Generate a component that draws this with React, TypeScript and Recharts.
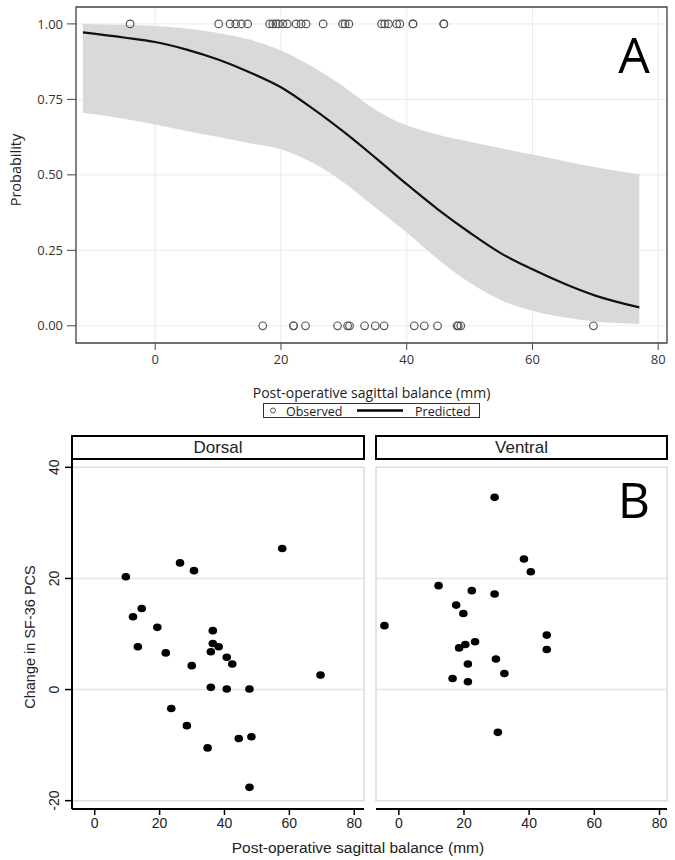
import React from "react"
import {
  ComposedChart,
  ScatterChart,
  Scatter,
  Line,
  Area,
  XAxis,
  YAxis,
  CartesianGrid,
  ReferenceArea,
  ReferenceLine,
  Label,
} from "recharts"

// ---- panel A: fitted probability curve ----
const curveX = [-11.5, -5, 0, 5, 10, 15, 20, 25, 30, 35, 40, 45, 50, 55, 60, 65, 70, 77]
const predicted = [0.972, 0.955, 0.94, 0.915, 0.882, 0.84, 0.79, 0.72, 0.642, 0.557, 0.469, 0.385, 0.309, 0.24, 0.187, 0.14, 0.1, 0.061]
const ciUpper = [1.0, 0.997, 0.993, 0.985, 0.97, 0.948, 0.912, 0.858, 0.792, 0.716, 0.664, 0.633, 0.61, 0.588, 0.567, 0.546, 0.525, 0.502]
const ciLower = [0.706, 0.686, 0.667, 0.645, 0.625, 0.605, 0.585, 0.54, 0.475, 0.392, 0.309, 0.22, 0.143, 0.085, 0.05, 0.028, 0.014, 0.006]

// observed outcomes (1 = yes, 0 = no)
const observedYes = [-4.0, 10.1, 11.9, 12.8, 13.7, 14.7, 18.2, 18.7, 19.2, 19.6, 20.3, 21.0, 22.4, 23.2, 24.0, 26.7, 29.8, 30.2, 30.8, 36.0, 36.5, 37.1, 38.4, 38.9, 41.0, 41.0, 45.9, 45.9]
const observedNo = [17.1, 22.0, 22.0, 23.9, 29.0, 30.6, 30.9, 33.3, 35.0, 36.4, 41.2, 42.8, 44.9, 48.0, 48.2, 48.6, 69.7]

const probTicks = [0, 0.25, 0.5, 0.75, 1]
const balanceTicks = [0, 20, 40, 60, 80]

// ---- panel B: change in SF-36 PCS by approach ----
const dorsalX = [9.6, 11.8, 14.5, 13.3, 19.3, 21.9, 26.3, 30.6, 29.9, 23.6, 28.4, 34.8, 36.4, 36.4, 38.2, 35.8, 40.7, 42.4, 35.8, 40.7, 47.7, 44.4, 48.3, 47.7, 57.8, 69.6]
const dorsalY = [20.3, 13.1, 14.6, 7.7, 11.2, 6.6, 22.8, 21.4, 4.3, -3.4, -6.5, -10.5, 10.6, 8.3, 7.7, 6.8, 5.8, 4.6, 0.4, 0.1, 0.1, -8.8, -8.5, -17.6, 25.4, 2.6]
const ventralX = [29.4, 38.4, 40.5, 12.2, 22.4, 29.4, 17.6, 19.8, -4.4, 45.4, 45.4, 23.4, 20.4, 18.5, 29.8, 21.2, 32.4, 16.5, 21.2, 30.4]
const ventralY = [34.6, 23.5, 21.2, 18.7, 17.8, 17.2, 15.2, 13.7, 11.5, 9.8, 7.2, 8.6, 8.1, 7.5, 5.5, 4.6, 2.9, 2.0, 1.4, -7.7]

const pcsTicks = [-20, 0, 20, 40]
const pcsGrid = [0, 20]

const fontA = "'Open Sans', sans-serif"
const fontB = "'Liberation Sans', Arial, sans-serif"

const domainA: [number, number] = [-12.6, 81.4]
const probDomain: [number, number] = [-0.057, 1.056]
const dorsalDomain: [number, number] = [-7, 83]
const ventralDomain: [number, number] = [-7, 82.3]
const pcsDomain: [number, number] = [-21.5, 41.5]

const curveData = curveX.map((x, i) => ({ x, p: predicted[i], band: [ciLower[i], ciUpper[i]] }))
const observedData = [
  ...observedYes.map((x) => ({ x, y: 1 })),
  ...observedNo.map((x) => ({ x, y: 0 })),
]
const dorsalData = dorsalX.map((x, i) => ({ x, y: dorsalY[i] }))
const ventralData = ventralX.map((x, i) => ({ x, y: ventralY[i] }))

const HollowDot = (props: any) => (
  <circle cx={props.cx} cy={props.cy} r={3.8} fill="none" stroke="#555" strokeWidth={1.2} />
)

const SolidDot = (props: any) => <ellipse cx={props.cx} cy={props.cy} rx={4.3} ry={3.8} fill="#000" />

const PcsTick = ({ x, y, payload }: any) => (
  <g transform={`translate(${x - 4},${y}) rotate(-90)`}>
    <text textAnchor="middle" fontSize={14} fill="#222" fontFamily={fontB}>
      {payload.value}
    </text>
  </g>
)

function PanelA() {
  return (
    <ComposedChart width={675} height={420} data={curveData} margin={{ top: 7, right: 8, bottom: 0, left: 0 }}>
      <CartesianGrid stroke="#ebebeb" />
      <XAxis
        type="number"
        dataKey="x"
        domain={domainA}
        ticks={balanceTicks}
        allowDataOverflow
        height={77}
        axisLine={false}
        tickLine={{ stroke: "#444" }}
        tickSize={7}
        tickMargin={5}
        tick={{ fontSize: 13, fill: "#333", fontFamily: fontA }}
      >
        <Label
          content={(p: any) => (
            <text
              x={p.viewBox.x + p.viewBox.width / 2}
              y={p.viewBox.y + 49}
              textAnchor="middle"
              dominantBaseline="central"
              fontSize={14}
              fill="#222"
              fontFamily={fontA}
            >
              Post-operative sagittal balance (mm)
            </text>
          )}
        />
      </XAxis>
      <YAxis
        type="number"
        domain={probDomain}
        ticks={probTicks}
        allowDataOverflow
        width={76}
        axisLine={false}
        tickLine={{ stroke: "#444" }}
        tickSize={9}
        tickMargin={4}
        tickFormatter={(v: number) => v.toFixed(2)}
        tick={{ fontSize: 13, fill: "#333", fontFamily: fontA }}
      >
        <Label
          content={(p: any) => (
            <text
              transform={`translate(15,${p.viewBox.y + p.viewBox.height / 2 - 5}) rotate(-90)`}
              textAnchor="middle"
              dominantBaseline="central"
              fontSize={14.5}
              fill="#222"
              fontFamily={fontA}
            >
              Probability
            </text>
          )}
        />
      </YAxis>
      <Area type="monotone" dataKey="band" fill="#d9d9d9" fillOpacity={1} stroke="none" isAnimationActive={false} />
      <Line type="monotone" dataKey="p" stroke="#111" strokeWidth={2.2} dot={false} isAnimationActive={false} />
      <Scatter data={observedData} dataKey="y" shape={HollowDot} isAnimationActive={false} />
      <ReferenceArea
        x1={domainA[0]}
        x2={domainA[1]}
        y1={probDomain[0]}
        y2={probDomain[1]}
        fill="none"
        stroke="#444"
        strokeWidth={1.3}
      />
    </ComposedChart>
  )
}

function DorsalPanel() {
  return (
    <ScatterChart width={370} height={440} margin={{ top: 39, right: 6, bottom: 0, left: 0 }}>
      <XAxis
        type="number"
        dataKey="x"
        domain={dorsalDomain}
        ticks={balanceTicks}
        allowDataOverflow
        height={51}
        axisLine={{ stroke: "#000", strokeWidth: 2 }}
        tickLine={{ stroke: "#000", strokeWidth: 1.5 }}
        tickSize={6}
        tickMargin={3}
        tick={{ fontSize: 14, fill: "#222", fontFamily: fontB }}
      />
      <YAxis
        type="number"
        dataKey="y"
        domain={pcsDomain}
        ticks={pcsTicks}
        allowDataOverflow
        width={72}
        axisLine={{ stroke: "#000", strokeWidth: 2 }}
        tickLine={{ stroke: "#000", strokeWidth: 1.5 }}
        tickSize={7}
        tickMargin={2}
        tick={<PcsTick />}
      >
        <Label
          content={(p: any) => (
            <text
              transform={`translate(30,${p.viewBox.y + p.viewBox.height / 2 + 3}) rotate(-90)`}
              textAnchor="middle"
              dominantBaseline="central"
              fontSize={14.5}
              fill="#222"
              fontFamily={fontB}
            >
              Change in SF-36 PCS
            </text>
          )}
        />
      </YAxis>
      <ReferenceArea x1={dorsalDomain[0]} x2={dorsalDomain[1]} y1={-20} y2={40} fill="none" stroke="#dcdcdc" strokeWidth={1.5} />
      {pcsGrid.map((v) => (
        <ReferenceLine key={v} y={v} stroke="#e4e4e4" strokeWidth={1.5} />
      ))}
      <Scatter data={dorsalData} shape={SolidDot} isAnimationActive={false} />
    </ScatterChart>
  )
}

function VentralPanel() {
  return (
    <ScatterChart width={315} height={440} margin={{ top: 39, right: 8, bottom: 0, left: 16 }}>
      <XAxis
        type="number"
        dataKey="x"
        domain={ventralDomain}
        ticks={balanceTicks}
        allowDataOverflow
        height={51}
        axisLine={{ stroke: "#000", strokeWidth: 2 }}
        tickLine={{ stroke: "#000", strokeWidth: 1.5 }}
        tickSize={6}
        tickMargin={3}
        tick={{ fontSize: 14, fill: "#222", fontFamily: fontB }}
      />
      <YAxis type="number" dataKey="y" domain={pcsDomain} ticks={pcsTicks} allowDataOverflow hide />
      <ReferenceArea x1={ventralDomain[0]} x2={ventralDomain[1]} y1={-20} y2={40} fill="none" stroke="#dcdcdc" strokeWidth={1.5} />
      {pcsGrid.map((v) => (
        <ReferenceLine key={v} y={v} stroke="#e4e4e4" strokeWidth={1.5} />
      ))}
      <Scatter data={ventralData} shape={SolidDot} isAnimationActive={false} />
    </ScatterChart>
  )
}

export default function App() {
  return (
    <div style={{ position: "absolute", left: 0, top: 0, width: 675, height: 860, background: "#fff" }}>
      <div style={{ position: "absolute", left: 0, top: 0 }}>
        <PanelA />
      </div>
      <div style={{ position: "absolute", left: 0, top: 420 }}>
        <DorsalPanel />
      </div>
      <div style={{ position: "absolute", left: 360, top: 420 }}>
        <VentralPanel />
      </div>
      <svg width={675} height={860} style={{ position: "absolute", left: 0, top: 0, pointerEvents: "none" }}>
        <text x={634} y={73} textAnchor="middle" fontSize={50} fill="#000" fontFamily={fontA}>
          A
        </text>

        {/* legend of panel A */}
        <rect x={263.5} y={403.5} width={216} height={14} fill="#fff" stroke="#333" strokeWidth={1} />
        <circle cx={273} cy={410.5} r={2.5} fill="none" stroke="#555" strokeWidth={1} />
        <text x={286} y={411} dominantBaseline="central" fontSize={12.5} fill="#222" fontFamily={fontA}>
          Observed
        </text>
        <line x1={357} x2={403} y1={410.5} y2={410.5} stroke="#000" strokeWidth={2.5} />
        <text x={415} y={411} dominantBaseline="central" fontSize={12.5} fill="#222" fontFamily={fontA}>
          Predicted
        </text>

        {/* facet strips of panel B */}
        <rect x={72} y={436} width={292} height={23} fill="#fff" stroke="#000" strokeWidth={2} />
        <text x={218} y={447.5} textAnchor="middle" dominantBaseline="central" fontSize={17} fill="#222" fontFamily={fontB}>
          Dorsal
        </text>
        <rect x={376} y={436} width={291} height={23} fill="#fff" stroke="#000" strokeWidth={2} />
        <text x={521.5} y={447.5} textAnchor="middle" dominantBaseline="central" fontSize={17} fill="#222" fontFamily={fontB}>
          Ventral
        </text>

        <text x={634} y={518} textAnchor="middle" fontSize={50} fill="#000" fontFamily={fontA}>
          B
        </text>
        <text x={358} y={847} textAnchor="middle" dominantBaseline="central" fontSize={15.5} fill="#222" fontFamily={fontB}>
          Post-operative sagittal balance (mm)
        </text>
      </svg>
    </div>
  )
}
